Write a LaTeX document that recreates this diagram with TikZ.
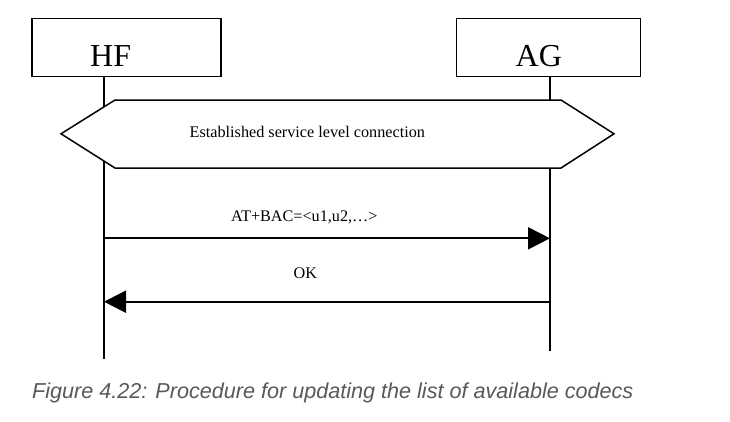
\documentclass[tikz,border=0pt]{standalone}
\usepackage{fontspec}
\setmainfont{Liberation Serif}
\newfontfamily\capfont{Liberation Sans}
\usetikzlibrary{arrows.meta}
\definecolor{capgray}{HTML}{595959}
\tikzset{
  entity/.style={draw=black, line width=1.3pt, fill=white, inner sep=0pt},
  entname/.style={font=\fontsize{32}{36}\selectfont, anchor=base west, inner sep=0pt},
  lifeline/.style={line width=2pt},
  msg/.style={line width=2pt, -{Triangle[length=22pt,width=22pt]}},
  msglabel/.style={font=\fontsize{16.2}{19}\selectfont, anchor=base west, inner sep=0pt},
  statebox/.style={draw=black, line width=1.5pt, fill=white, line join=miter},
  caption/.style={font=\capfont\itshape\fontsize{21.6}{25}\selectfont, text=capgray, anchor=base west, inner sep=0pt}
}
\begin{document}
\begin{tikzpicture}[x=1pt,y=-1pt]
\useasboundingbox[fill=white] (0,0) rectangle (730,421);
% entity boxes
\node[entity, minimum width=189pt, minimum height=58.2pt] (hfbox) at (126.5,47.6) {};
\node[entity, minimum width=184pt, minimum height=58.2pt] (agbox) at (548.7,47.6) {};
\node[entname] (hf) at (90,66.7) {HF};
\node[entname] (ag) at (515.5,66.7) {AG};
% lifelines
\coordinate (hftop) at (104,76.7);
\coordinate (hfbot) at (104,359);
\coordinate (agtop) at (550,76.7);
\coordinate (agbot) at (550,350.7);
\draw[lifeline] (hftop) -- (hfbot);
\draw[lifeline] (agtop) -- (agbot);
% state hexagon
\draw[statebox] (61,133.8) -- (115,100) -- (561,100) -- (614,133.8) -- (561,168) -- (115,168) -- cycle;
\node[msglabel] (est) at (189.5,137.7) {Established service level connection};
% messages
\coordinate (hf1) at (104,238.3);
\coordinate (ag1) at (550,238.3);
\coordinate (hf2) at (104,301.7);
\coordinate (ag2) at (550,301.7);
\draw[msg] (hf1) -- (ag1);
\node[msglabel] (bac) at (231,221.7) {AT+BAC=<u1,u2,…>};
\draw[msg] (ag2) -- (hf2);
\node[msglabel] (ok) at (293.5,278) {OK};
% caption
\node[caption] (cap) at (32,398.3) {Figure 4.22: Procedure for updating the list of available codecs};
\end{tikzpicture}
\end{document}
